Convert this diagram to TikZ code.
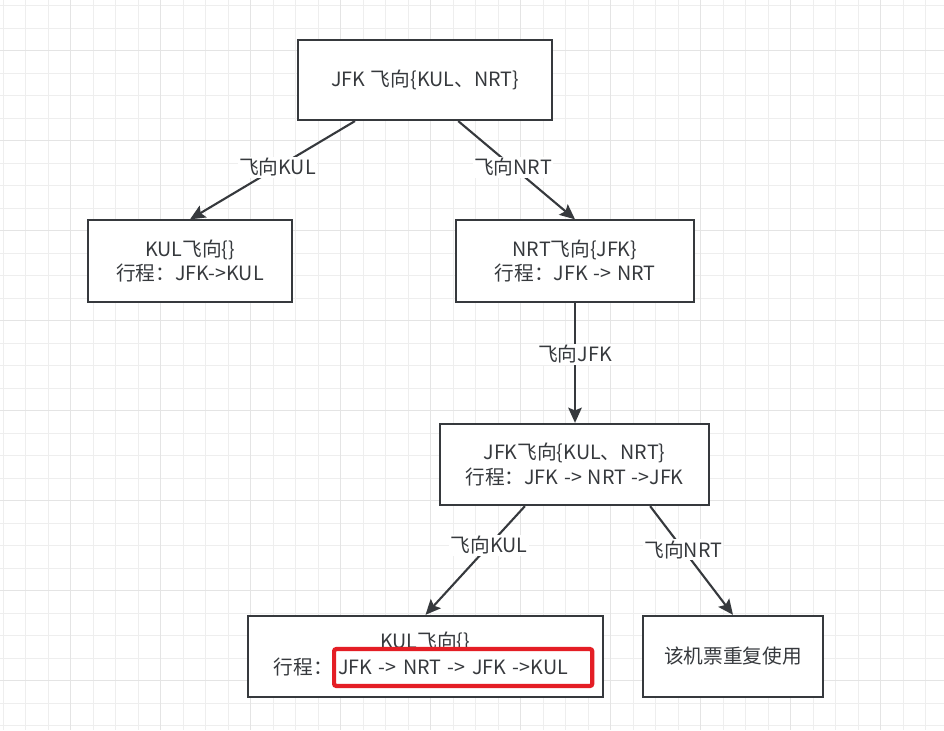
\documentclass[tikz,border=0pt]{standalone}
\usepackage{fontspec}
\setmainfont{Noto Sans CJK SC}[WordSpace=1.3]
\definecolor{flyGray}{RGB}{54,57,61}
\definecolor{flyRed}{RGB}{228,30,37}
\definecolor{gridMinor}{RGB}{238,238,238}
\definecolor{gridMajor}{RGB}{228,228,228}
\usetikzlibrary{arrows.meta,positioning,calc}

\begin{document}
\begin{tikzpicture}[x=0.025cm, y=-0.025cm,
  box/.style={draw=flyGray, line width=1.5pt, fill=white, align=center,
              minimum height=2.03cm, text=flyGray,
              font=\fontsize{14pt}{17.5pt}\selectfont},
  edge/.style={-{Stealth[length=0.38cm, width=0.34cm, inset=0.07cm]}, line width=1.5pt, flyGray},
  elabel/.style={fill=white, inner sep=1pt, text=flyGray,
                 font=\fontsize{14pt}{17.5pt}\selectfont},
  plain/.style={inner sep=0pt, text=flyGray,
                font=\fontsize{14pt}{17.5pt}\selectfont},
  trip/.style={draw=flyRed, line width=3pt, rounded corners=1.5pt, fill=white,
               text=flyGray, inner xsep=0.1cm, inner ysep=0pt,
               text width=6.25cm, align=left, minimum height=0.92cm,
               font=\fontsize{14pt}{17.5pt}\selectfont}
]
  \useasboundingbox (0,0) rectangle (944,730);
  \fill[white] (0,0) rectangle (944,730);
  % background grid
  \foreach \i in {0,...,41}
    \draw[gridMinor, line width=0.6pt] (3.2+22.5*\i,0) -- (3.2+22.5*\i,730);
  \foreach \i in {0,...,32}
    \draw[gridMinor, line width=0.6pt] (0,5.7+22.5*\i) -- (944,5.7+22.5*\i);
  \foreach \i in {0,...,9}
    \draw[gridMajor, line width=0.7pt] (70.7+90*\i,0) -- (70.7+90*\i,730);
  \foreach \i in {0,...,7}
    \draw[gridMajor, line width=0.7pt] (0,50.7+90*\i) -- (944,50.7+90*\i);

  % boxes
  \node[box, minimum width=6.35cm, minimum height=2cm] (root) at (425,80)
    {JFK 飞向\{KUL、NRT\}};
  \node[box, minimum width=5.1cm] (kul) at (190,261)
    {KUL飞向\{\}\\行程：JFK->KUL};
  \node[box, minimum width=5.95cm] (nrt) at (575,261)
    {NRT飞向\{JFK\}\\行程：JFK -> NRT};
  \node[box, minimum width=6.72cm] (jfk) at (574.5,464.5)
    {JFK飞向\{KUL、NRT\}\\行程：JFK -> NRT ->JFK};
  \node[box, minimum width=8.87cm] (kulend) at (425.5,656.5) {};
  \node[box, minimum width=4.5cm] (reuse) at (733,656.5) {该机票重复使用};

  % text of the last trip
  \node[plain] (kulendtop) at (425,642) {KUL飞向\{\}};
  \node[plain, anchor=east] (kulendleg) at (333,667.5) {行程：};
  \node[trip, anchor=west] (kulendtrip) at (332,667.5) {JFK -> NRT -> JFK ->KUL};

  % connectors
  \draw[edge] ([xshift=-1.75cm]root.south) -- node[elabel, pos=0.47] (l1) {飞向KUL} (kul.north);
  \draw[edge] ([xshift=0.83cm]root.south) -- node[elabel, pos=0.47] (l2) {飞向NRT} (nrt.north);
  \draw[edge] (nrt.south) -- node[elabel, pos=0.43] (l3) {飞向JFK} (nrt.south |- jfk.north);
  \draw[edge] ([xshift=-1.24cm]jfk.south) -- node[elabel, pos=0.36] (l4) {飞向KUL} (kulend.north);
  \draw[edge] ([xshift=1.89cm]jfk.south) -- node[elabel, pos=0.4] (l5) {飞向NRT} (reuse.north);
\end{tikzpicture}
\end{document}
